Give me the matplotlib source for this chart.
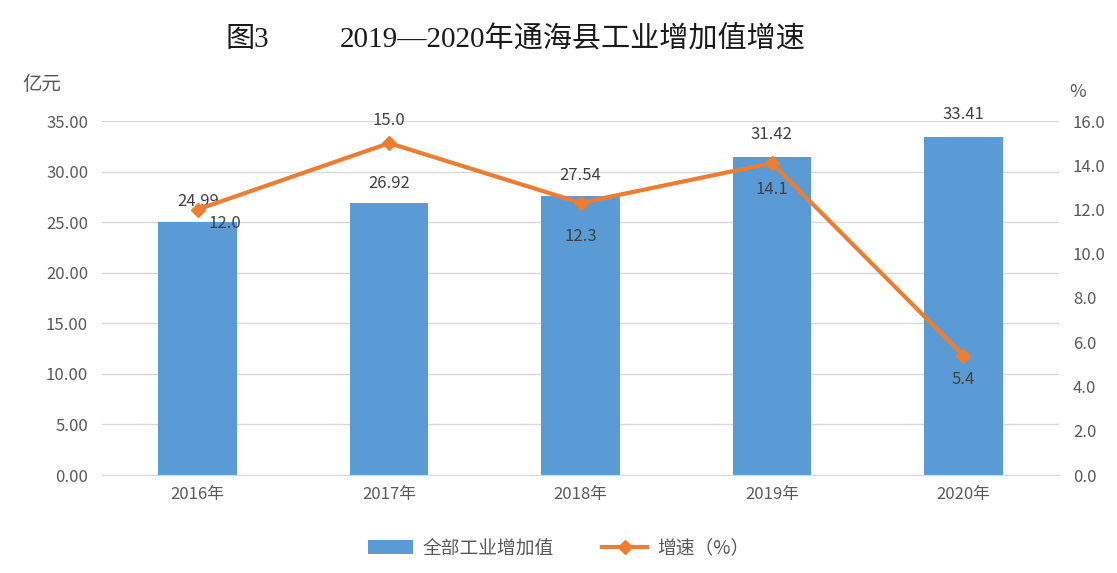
import numpy as np
import matplotlib
matplotlib.use('Agg')
import matplotlib.pyplot as plt

plt.rcParams['font.family'] = ['Noto Sans CJK SC', 'DejaVu Sans']

years = ['2016年', '2017年', '2018年', '2019年', '2020年']
value = [24.99, 26.92, 27.54, 31.42, 33.41]     # 全部工业增加值（亿元）
growth = [12.0, 15.0, 12.3, 14.1, 5.4]          # 增速（%）
value_off = [9, 8, 9, 10, 10]                     # 柱标签偏移（pt）
growth_off = [(8, -10), (0, 10), (0, -18), (0, -13), (0, -11)]  # 折线标签偏移

azul = '#5B9BD5'
naranja = '#ED7D31'
gris = '#595959'

fig = plt.figure(figsize=(11.17, 5.73), dpi=100)
ax = fig.add_axes([102/1117, 98/573, 957/1117, 354/573])
ax2 = ax.twinx()

x = np.arange(len(years))
barras = ax.bar(x, value, width=0.41, color=azul, label='全部工业增加值', zorder=2)
ax.set_xlim(-0.5, len(years) - 0.5)
ax.set_ylim(0, 35)
ax.set_yticks(np.arange(0, 35.1, 5))
ax.set_yticklabels(['%.2f' % v for v in np.arange(0, 35.1, 5)])
ax.set_xticks(x)
ax.set_xticklabels(years)
ax.grid(axis='y', color='#D9D9D9', lw=1, zorder=0)
ax.set_axisbelow(True)

for xi, v, o in zip(x, value, value_off):
    ax.annotate('%.2f' % v, (xi, v), xytext=(0, o), textcoords='offset points',
                ha='center', va='bottom', fontsize=12, color='#404040')

linea, = ax2.plot(x, growth, color=naranja, lw=3, marker='D', ms=7,
                  label='增速（%）', zorder=3)
ax2.set_ylim(0, 16)
ax2.set_yticks(np.arange(0, 16.1, 2))
ax2.set_yticklabels(['%.1f' % v for v in np.arange(0, 16.1, 2)])

for xi, g, off in zip(x, growth, growth_off):
    if off[0] > 0:
        ha, va = 'left', 'center'
    elif off[1] > 0:
        ha, va = 'center', 'bottom'
    else:
        ha, va = 'center', 'top'
    ax2.annotate('%.1f' % g, (xi, g), xytext=off, textcoords='offset points',
                 ha=ha, va=va, fontsize=12, color='#404040')

for a in (ax, ax2):
    for s in a.spines.values():
        s.set_visible(False)
    a.tick_params(length=0, labelsize=12, colors=gris)
ax.spines['bottom'].set_visible(True)
ax.spines['bottom'].set_color('#D9D9D9')
ax.tick_params(axis='x', pad=8)
ax.tick_params(axis='y', pad=10)
ax2.tick_params(axis='y', pad=10)

fig.text(42/1117, 1 - 85/573, '亿元', fontsize=14, color=gris, ha='center', va='center')
fig.text(1078/1117, 1 - 92/573, '%', fontsize=13, color=gris, ha='center', va='center')

titulo_fuente = ['Liberation Serif', 'Noto Sans CJK SC']
fig.text(225/1117, 1 - 40/573, '图3', fontsize=21, color='#1a1a1a', ha='left',
         va='center', family=titulo_fuente)
fig.text(340/1117, 1 - 40/573, '2019—2020年通海县工业增加值增速', fontsize=21,
         color='#1a1a1a', ha='left', va='center', family=titulo_fuente)

fig.legend(handles=[barras, linea], loc='center', bbox_to_anchor=(0.5, 1 - 548/573),
           ncol=2, frameon=False, fontsize=13.5, labelcolor=gris,
           handlelength=2.4, handletextpad=0.5, columnspacing=2.6)

fig.savefig('out.png', dpi=100)
